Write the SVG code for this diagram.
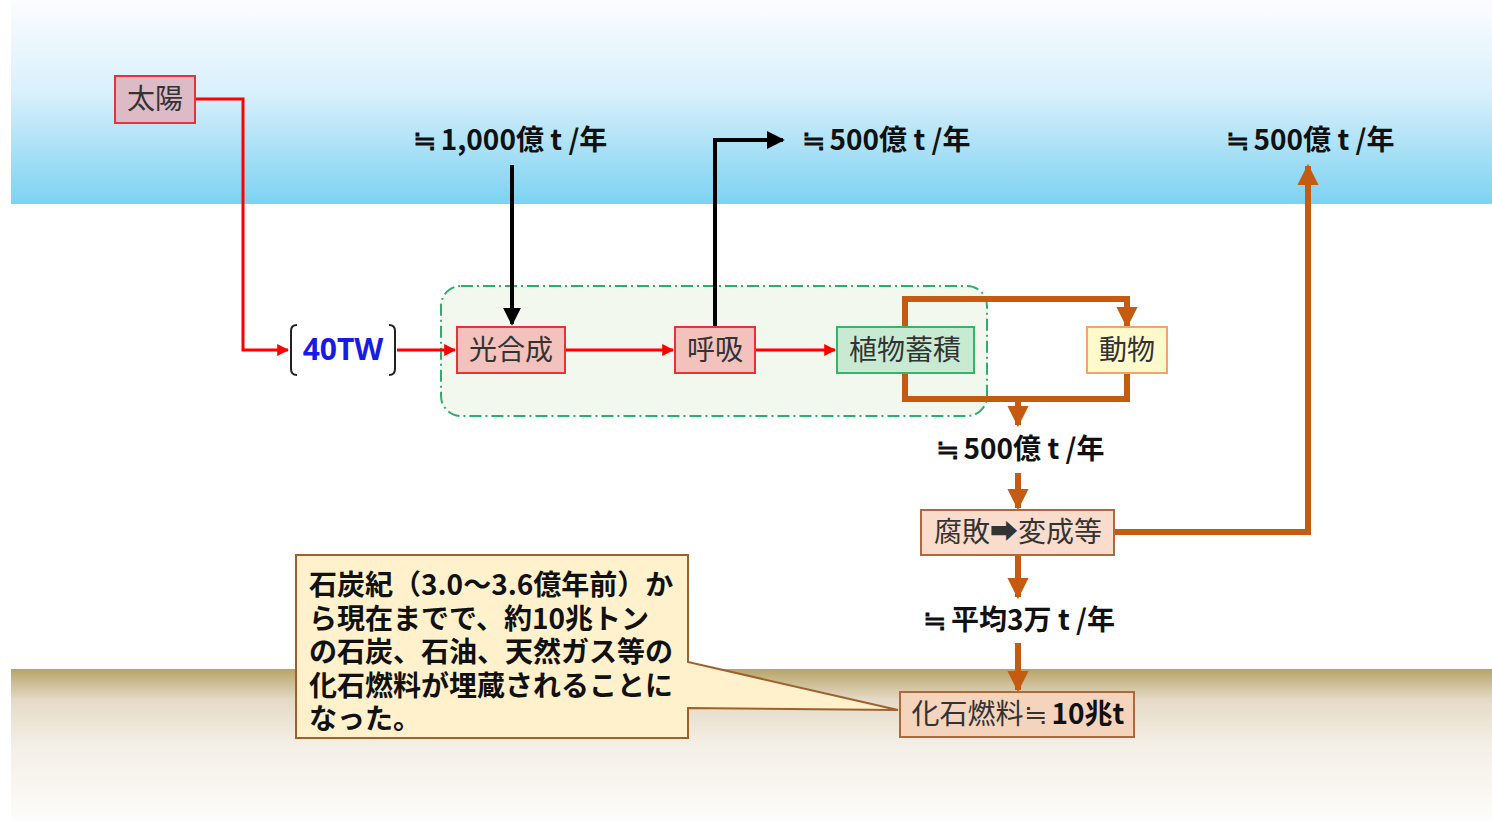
<svg xmlns="http://www.w3.org/2000/svg" width="1492" height="821" viewBox="0 0 1492 821">
<defs>
<linearGradient id="sky" x1="0" y1="0" x2="0" y2="1">
<stop offset="0" stop-color="#fbfdff"/>
<stop offset="0.45" stop-color="#d9f0fb"/>
<stop offset="1" stop-color="#7dd2f2"/>
</linearGradient>
<linearGradient id="ground" x1="0" y1="0" x2="0" y2="1">
<stop offset="0" stop-color="#b7a469"/>
<stop offset="0.2" stop-color="#e4dac6"/>
<stop offset="0.5" stop-color="#f4efe6"/>
<stop offset="1" stop-color="#fdfcfa"/>
</linearGradient>
<marker id="aRed" viewBox="0 0 10 10" refX="9" refY="5" markerWidth="4" markerHeight="4" orient="auto" markerUnits="strokeWidth">
<path d="M0,0 L10,5 L0,10 Z" fill="#ff0000"/>
</marker>
<marker id="aBlack" viewBox="0 0 10 10" refX="9" refY="5" markerWidth="4.5" markerHeight="4.5" orient="auto" markerUnits="strokeWidth">
<path d="M0,0 L10,5 L0,10 Z" fill="#000"/>
</marker>
<marker id="aBrown" viewBox="0 0 10 10" refX="9" refY="5" markerWidth="3.6" markerHeight="3.6" orient="auto" markerUnits="strokeWidth">
<path d="M0,0 L10,5 L0,10 Z" fill="#c55a11"/>
</marker>
<style>
.box{stroke-width:2}
.lbl{font-family:"Noto Sans CJK JP","Noto Sans",sans-serif;font-size:28px;fill:#333;text-anchor:middle}
.val{font-family:"Noto Sans CJK JP","Noto Sans",sans-serif;font-size:28px;font-weight:bold;fill:#111;text-anchor:middle}
.red{fill:none;stroke:#ff0000;stroke-width:3;marker-end:url(#aRed)}
.blk{fill:none;stroke:#000;stroke-width:4;marker-end:url(#aBlack)}
.brn{fill:none;stroke:#c55a11;stroke-width:6}
.brnA{fill:none;stroke:#c55a11;stroke-width:6;marker-end:url(#aBrown)}
</style>
</defs>
<rect x="0" y="0" width="1492" height="821" fill="#fff"/>
<rect x="11" y="0" width="1481" height="204" fill="url(#sky)"/>
<rect x="11" y="669" width="1481" height="152" fill="url(#ground)"/>

<g id="plant-region">
<rect x="441" y="286" width="546" height="130" rx="20" fill="#f2f8ee" stroke="#2ab06a" stroke-width="2" stroke-dasharray="12 4 2 4"/>
</g>

<g id="labels">
<text class="val" x="510" y="150">≒<tspan dx="5">1,000億 t /年</tspan></text>
<text class="val" x="886" y="150">≒<tspan dx="5">500億 t /年</tspan></text>
<text class="val" x="1310" y="150">≒<tspan dx="5">500億 t /年</tspan></text>
<text class="val" x="1020" y="459">≒<tspan dx="5">500億 t /年</tspan></text>
<text class="val" x="1019" y="630">≒<tspan dx="5">平均3万 t /年</tspan></text>
</g>

<g id="connectors">
<path class="red" d="M195,99 H243 V350 H288"/>
<path class="red" d="M397,350 H455"/>
<path class="red" d="M565,350 H673"/>
<path class="red" d="M755,350 H835"/>
<path class="blk" d="M512,165 V324"/>
<path class="blk" d="M715,327 V140 H783"/>
<path class="brnA" d="M905,327 V299 H1127 V326"/>
<path class="brn" d="M905,373 V399 H1127 V373"/>
<path class="brnA" d="M1018,399 V425"/>
<path class="brnA" d="M1018,473 V508"/>
<path class="brnA" d="M1018,555 V597"/>
<path class="brnA" d="M1018,643 V690"/>
<path class="brnA" d="M1114,532 H1308 V166"/>
</g>

<g id="sun">
<rect class="box" x="115" y="76" width="80" height="47" fill="#dcbac6" stroke="#e6333a"/>
<text class="lbl" x="155" y="109">太陽</text>
</g>

<g id="power">
<path d="M297,325 Q291,325 291,331 V369 Q291,375 297,375" fill="none" stroke="#222" stroke-width="2"/>
<path d="M389,325 Q395,325 395,331 V369 Q395,375 389,375" fill="none" stroke="#222" stroke-width="2"/>
<text x="343" y="360" font-family="'Noto Sans','Liberation Sans',sans-serif" font-size="30" font-weight="bold" fill="#1a1ae6" text-anchor="middle">40TW</text>
</g>

<g id="photosynthesis">
<rect class="box" x="457" y="327" width="108" height="46" fill="#f4c2bd" stroke="#e6333a"/>
<text class="lbl" x="511" y="360">光合成</text>
</g>

<g id="respiration">
<rect class="box" x="675" y="327" width="80" height="46" fill="#f4c2bd" stroke="#e6333a"/>
<text class="lbl" x="715" y="360">呼吸</text>
</g>

<g id="plant-storage">
<rect class="box" x="837" y="327" width="137" height="46" fill="#c9ead2" stroke="#35b56a"/>
<text class="lbl" x="905" y="360">植物蓄積</text>
</g>

<g id="animal">
<rect class="box" x="1087" y="327" width="80" height="46" fill="#fff9cc" stroke="#f4a46a"/>
<text class="lbl" x="1127" y="360">動物</text>
</g>

<g id="decay">
<rect class="box" x="921" y="510" width="193" height="45" fill="#f9dccb" stroke="#b0683a"/>
<text class="lbl" x="1018" y="542">腐敗➡変成等</text>
</g>

<g id="fossil">
<rect class="box" x="900" y="692" width="234" height="45" fill="#f4d4bd" stroke="#b0683a"/>
<text class="lbl" x="1018" y="724">化石燃料≒<tspan dx="5" font-weight="bold" fill="#111">10兆t</tspan></text>
</g>

<g id="callout">
<path d="M296,555 H688 V662 L898,710 L688,708 V738 H296 Z" fill="#fff1cc" stroke="#a0602e" stroke-width="2"/>
<text font-family="'Noto Sans CJK JP','Noto Sans',sans-serif" font-size="28" font-weight="bold" fill="#111">
<tspan x="309" y="595">石炭紀（3.0～3.6億年前）か</tspan>
<tspan x="309" y="628.5">ら現在までで、約10兆トン</tspan>
<tspan x="309" y="662">の石炭、石油、天然ガス等の</tspan>
<tspan x="309" y="695.5">化石燃料が埋蔵されることに</tspan>
<tspan x="309" y="729">なった。</tspan>
</text>
</g>
</svg>
